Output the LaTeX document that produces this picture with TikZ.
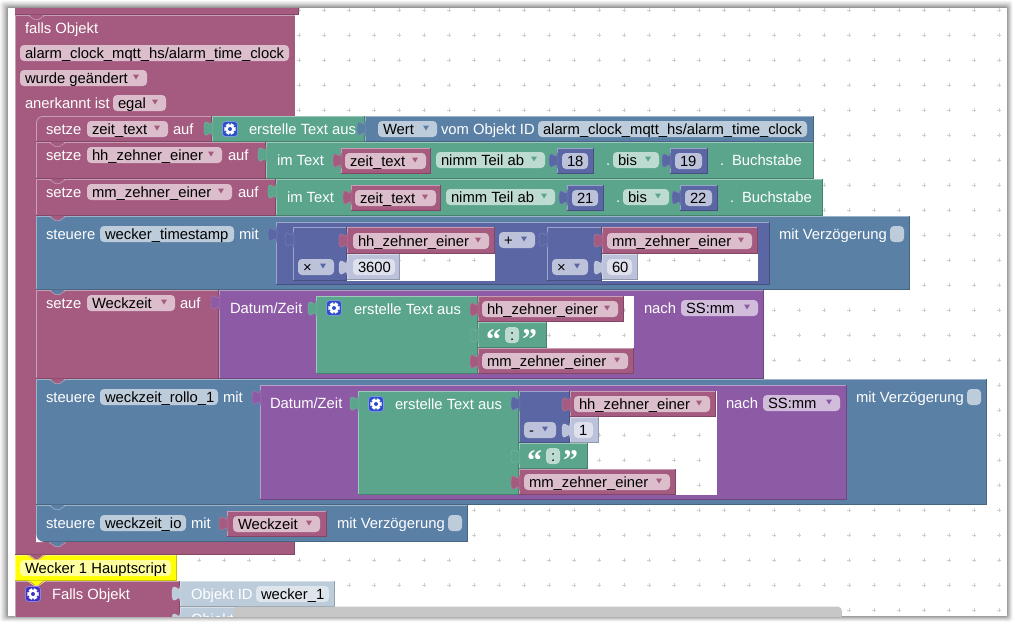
\documentclass[tikz,border=0pt]{standalone}
\usepackage{fontspec}
\setmainfont{Liberation Sans}
\newfontfamily\quotefont{Liberation Serif}
\definecolor{cM}{HTML}{A55B80}
\definecolor{cG}{HTML}{5BA58C}
\definecolor{cB}{HTML}{5B80A5}
\definecolor{cN}{HTML}{5B67A5}
\definecolor{cP}{HTML}{8D5BA5}
\definecolor{fM}{HTML}{DBBDCC}
\definecolor{fG}{HTML}{BDDBD1}
\definecolor{fB}{HTML}{BDCCDB}
\definecolor{fN}{HTML}{BDC2DB}
\definecolor{fP}{HTML}{D1BDDB}
\definecolor{sB}{HTML}{DEE5ED}
\definecolor{sN}{HTML}{DEE0ED}
\definecolor{cY}{HTML}{FFFF00}
\definecolor{fY}{HTML}{FFFFA0}
\definecolor{gearB}{HTML}{2A4FC8}
\definecolor{gearV}{HTML}{4030C4}
\definecolor{dotc}{HTML}{CFCFCF}
\newcount\nn
\tikzset{
  x=1pt,y=-1pt,
  txt/.style={inner sep=0pt,outer sep=0pt,anchor=base west,font=\fontsize{14.8}{16}\selectfont},
  wht/.style={txt,text=white},
  blk/.style={txt,text=black},
  fieldbox/.style={rounded corners=4pt},
  griddot/.style={draw=dotc,line width=.6pt}
}
\newcommand{\griddots}{%
  \foreach \gx in {24,49,...,1005}{\foreach \gy in {10,35,...,610}{%
    \draw[griddot] (\gx-2,\gy)--(\gx+2,\gy) (\gx,\gy-2)--(\gx,\gy+2);}}}
\newcommand{\hole}[4]{%
  \fill[white] (#1,#2) rectangle (#3,#4);
  \begin{scope}\clip (#1,#2) rectangle (#3,#4);\griddots\end{scope}}
\newcommand{\blok}[5]{%
  \fill[#5] (#1,#2) rectangle (#3,#4);
  \draw[#5!60!white,line width=.8pt] (#1+.4,#4) -- (#1+.4,#2+.4) -- (#3,#2+.4);
  \draw[#5!78!black,line width=.8pt] (#1,#4-.4) -- (#3-.4,#4-.4) -- (#3-.4,#2);}
\newcommand{\tabb}[3]{%
  \fill[#3,draw=#3!82!white,line width=.4pt] (#1+.8,#2+5) -- (#1,#2+5) .. controls (#1,#2+15) and (#1-8,#2-3) .. (#1-8,#2+12.5)
     .. controls (#1-8,#2+28) and (#1,#2+10) .. (#1,#2+20) -- (#1+.8,#2+20) -- cycle;}
\newcommand{\notch}[3]{%
  \fill[#3] (#1+14,#2-.5) -- (#1+20,#2+4) -- (#1+23,#2+4) -- (#1+29,#2-.5) -- cycle;
  \draw[#3!60!white,line width=.6pt] (#1+13,#2+.3) -- (#1+19.5,#2+4.6) -- (#1+23.5,#2+4.6) -- (#1+30,#2+.3);}
\newcommand{\lab}[3]{\global\advance\nn by 1 \node[wht] (n\the\nn) at (#1,#2+5) {#3};}
% \fld x1 x2 yc fill textcolor-block text
\newcommand{\fld}[6]{%
  \fill[#4,fieldbox] (#1,#3-8) rectangle (#2,#3+8);
  \global\advance\nn by 1 \node[blk] (n\the\nn) at (#1+5,#3+5) {#6};
  \fill[#5] (#2-14,#3-3.5) -- (#2-8,#3-3.5) -- (#2-11,#3+1.5) -- cycle;}
% plain field without arrow
\newcommand{\pfl}[5]{%
  \fill[#4,fieldbox] (#1,#3-8) rectangle (#2,#3+8);
  \global\advance\nn by 1 \node[blk] (n\the\nn) at (#1+5,#3+5) {#5};}
\newcommand{\chk}[2]{\fill[fB,fieldbox] (#1,#2-8) rectangle (#1+14,#2+8);}
\newcommand{\gearic}[3]{%
  \fill[#3,draw=#3!60!white,line width=.8pt,rounded corners=3pt] (#1-7.5,#2-7.5) rectangle (#1+7.5,#2+7.5);
  \foreach \a in {0,60,...,300}{\fill[white] (#1,#2) ++(\a-20:5.9) arc[start angle=\a-20,end angle=\a+20,radius=5.9] -- (#1,#2) -- cycle;}
  \fill[white] (#1,#2) circle[radius=4.6];
  \fill[#3] (#1,#2) circle[radius=2];}
\newcommand{\quot}[3]{\global\advance\nn by 1 \node[inner sep=0pt,anchor=base west,text=white,font=\fontsize{30}{30}\quotefont\bfseries] (n\the\nn) at (#1,#2) {#3};}
\begin{document}
\begin{tikzpicture}
\useasboundingbox (0,0) rectangle (1015,625);
\fill[white] (0,0) rectangle (1015,625);
% window shadow
\foreach \i/\s in {8/4,7/8,6/12,5/17,4/22,3/28,2/34,1/40}{
  \fill[black!\s,rounded corners=3pt] (8-\i,8-\i*.9) rectangle (1007+\i*.7,616+\i*.7);}
\fill[white] (8,8) rectangle (1007,616);
\begin{scope}
\clip (8,8) rectangle (1007,616);
\griddots
% top remnant block and hat block
\fill[cM] (15,8) rectangle (299,15);
\draw[cM!78!black,line width=.8pt] (15,14.6) -- (298.6,14.6) -- (298.6,8);
\fill[cM] (15,15) rectangle (295,555);
\draw[cM!60!white,line width=.8pt] (15.4,555) -- (15.4,15.4) -- (295,15.4);
\draw[cM!78!black,line width=.8pt] (15,554.6) -- (294.6,554.6) -- (294.6,542);
\notch{15}{15}{cM}
\lab{25}{28}{falls Objekt}
\pfl{20}{289}{53}{fM}{alarm\_clock\_mqtt\_hs/alarm\_time\_clock}
\fld{20}{147}{78}{fM}{cM}{wurde geändert}
\lab{25}{103}{anerkannt ist}
\fld{113}{166}{103}{fM}{cM}{egal}
% row 1
\blok{36}{116}{212}{142}{cM}
\fill[cM] (36,116) rectangle (42,122);
\draw[cM!60!white,line width=.8pt] (36.4,124) .. controls (36.4,119) and (39,116.4) .. (44,116.4);
\lab{46}{129}{setze}
\fld{87}{168}{129}{fM}{cM}{zeit\_text}
\lab{173}{129}{auf}
\blok{212}{116}{365}{142}{cG}
\tabb{212}{116}{cG}
\gearic{230}{129}{gearB}
\lab{249}{129}{erstelle Text aus}
\blok{365}{116}{814}{142}{cB}
\tabb{365}{116}{cB}
\fld{378}{437}{129}{fB}{cB}{Wert}
\lab{441}{129}{vom Objekt ID}
\pfl{538}{807}{129}{fB}{alarm\_clock\_mqtt\_hs/alarm\_time\_clock}
% row 2
\blok{36}{142}{266}{179}{cM}
\notch{36}{142}{cM}
\lab{46}{155}{setze}
\fld{87}{222}{155}{fM}{cM}{hh\_zehner\_einer}
\lab{228}{155}{auf}
\blok{266}{142}{814}{179}{cG}
\tabb{266}{142}{cG}
\lab{277}{160}{im Text}
\blok{341}{148}{431}{174}{cM}
\tabb{341}{148}{cM}
\fld{345}{426}{161}{fM}{cM}{zeit\_text}
\fld{436}{545}{160}{fG}{cG}{nimm Teil ab}
\blok{557}{148}{594}{174}{cN}
\tabb{557}{148}{cN}
\pfl{562}{588}{161}{fN}{18}
\lab{606}{160}{.}
\fld{613}{659}{160}{fG}{cG}{bis}
\blok{670}{148}{708}{174}{cN}
\tabb{670}{148}{cN}
\pfl{675}{702}{161}{fN}{19}
\lab{720}{160}{.}
\lab{732}{160}{Buchstabe}
% row 3
\blok{36}{179}{276}{216}{cM}
\notch{36}{179}{cM}
\lab{46}{192}{setze}
\fld{87}{232}{192}{fM}{cM}{mm\_zehner\_einer}
\lab{238}{192}{auf}
\blok{276}{179}{823}{216}{cG}
\tabb{276}{179}{cG}
\lab{287}{197}{im Text}
\blok{351}{185}{441}{211}{cM}
\tabb{351}{185}{cM}
\fld{355}{436}{198}{fM}{cM}{zeit\_text}
\fld{446}{555}{197}{fG}{cG}{nimm Teil ab}
\blok{567}{185}{604}{211}{cN}
\tabb{567}{185}{cN}
\pfl{572}{598}{198}{fN}{21}
\lab{616}{197}{.}
\fld{623}{669}{197}{fG}{cG}{bis}
\blok{680}{185}{718}{211}{cN}
\tabb{680}{185}{cN}
\pfl{685}{712}{198}{fN}{22}
\lab{730}{197}{.}
\lab{742}{197}{Buchstabe}
% row 4
\blok{36}{216}{910}{290}{cB}
\notch{36}{216}{cM}
\lab{46}{234}{steuere}
\pfl{100}{234}{234}{fB}{wecker\_timestamp}
\lab{239}{234}{mit}
\blok{276}{222}{770}{285}{cN}
\tabb{276}{222}{cN}
\hole{347}{227}{495}{281}
\blok{293}{227}{347}{281}{cN}
\tabb{293}{227}{cN}
\blok{347}{227}{495}{254}{cM}
\tabb{347}{228}{cM}
\fld{353}{489}{241}{fM}{cM}{hh\_zehner\_einer}
\fld{298}{334}{267}{fN}{cN}{×}
\blok{347}{254}{400}{280}{fN}
\tabb{347}{255}{fN}
\pfl{353}{395}{267}{sN}{3600}
\fld{499}{535}{240}{fN}{cN}{+}
\hole{602}{227}{758}{281}
\blok{547}{227}{602}{281}{cN}
\tabb{547}{227}{cN}
\blok{602}{227}{758}{254}{cM}
\tabb{602}{228}{cM}
\fld{607}{752}{241}{fM}{cM}{mm\_zehner\_einer}
\fld{552}{588}{267}{fN}{cN}{×}
\blok{602}{254}{638}{280}{fN}
\tabb{602}{255}{fN}
\pfl{607}{632}{267}{sN}{60}
\lab{779}{234}{mit Verzögerung}
\chk{890}{234}
% row 5
\blok{36}{290}{219}{379}{cM}
\notch{36}{290}{cB}
\lab{46}{303}{setze}
\fld{87}{175}{303}{fM}{cM}{Weckzeit}
\lab{180}{303}{auf}
\blok{219}{290}{764}{379}{cP}
\tabb{219}{290}{cP}
\lab{230}{308}{Datum/Zeit}
\hole{478}{296}{634}{374}
\blok{316}{296}{478}{374}{cG}
\tabb{316}{296}{cG}
\gearic{334}{308}{gearB}
\lab{354}{309}{erstelle Text aus}
\blok{478}{296}{624}{322}{cM}
\tabb{478}{297}{cM}
\fld{482}{618}{309}{fM}{cM}{hh\_zehner\_einer}
\blok{478}{322}{547}{348}{cG}
\tabb{478}{323}{cG}
\quot{486}{349}{“}
\pfl{505}{519}{335}{fG}{:}
\quot{522}{349}{”}
\blok{478}{348}{634}{374}{cM}
\tabb{478}{349}{cM}
\fld{482}{628}{361}{fM}{cM}{mm\_zehner\_einer}
\lab{644}{308}{nach}
\fld{681}{758}{308}{fP}{cP}{SS:mm}
% row 6
\blok{36}{379}{987}{505}{cB}
\notch{36}{379}{cM}
\lab{46}{397}{steuere}
\pfl{100}{218}{397}{fB}{weckzeit\_rollo\_1}
\lab{223}{397}{mit}
\blok{260}{385}{847}{500}{cP}
\tabb{260}{385}{cP}
\lab{270}{403}{Datum/Zeit}
\hole{519}{391}{717}{495}
\blok{358}{391}{519}{495}{cG}
\tabb{358}{391}{cG}
\gearic{376}{404}{gearB}
\lab{395}{404}{erstelle Text aus}
\blok{519}{391}{570}{443}{cN}
\tabb{519}{391}{cN}
\blok{570}{391}{716}{417}{cM}
\tabb{570}{392}{cM}
\fld{574}{710}{404}{fM}{cM}{hh\_zehner\_einer}
\fld{524}{556}{430}{fN}{cN}{-}
\blok{570}{417}{599}{443}{fN}
\tabb{570}{418}{fN}
\pfl{574}{593}{430}{sN}{1}
\blok{519}{443}{588}{469}{cG}
\tabb{519}{444}{cG}
\quot{527}{470}{“}
\pfl{546}{560}{456}{fG}{:}
\quot{563}{470}{”}
\blok{519}{469}{676}{495}{cM}
\tabb{519}{470}{cM}
\fld{524}{670}{482}{fM}{cM}{mm\_zehner\_einer}
\lab{726}{403}{nach}
\fld{763}{840}{403}{fP}{cP}{SS:mm}
\lab{856}{397}{mit Verzögerung}
\chk{967}{397}
% row 7
\blok{36}{505}{468}{542}{cB}
\notch{36}{505}{cB}
\lab{46}{523}{steuere}
\pfl{100}{186}{523}{fB}{weckzeit\_io}
\lab{191}{523}{mit}
\blok{227}{511}{327}{537}{cM}
\tabb{227}{511}{cM}
\fld{233}{320}{524}{fM}{cM}{Weckzeit}
\lab{337}{523}{mit Verzögerung}
\chk{448}{523}
\fill[white] (36,534) -- (36,542) -- (44,542) .. controls (39,541.5) and (36.5,539) .. cycle;
\notch{36}{542}{cB}
% comment and bottom blocks
\blok{15}{555}{177}{581}{cY}
\notch{15}{555}{cM}
\pfl{20}{171}{568}{fY}{Wecker 1 Hauptscript}
\blok{15}{581}{180}{622}{cM}
\notch{15}{581}{cY}
\gearic{33}{594}{gearV}
\lab{52}{594}{Falls Objekt}
\blok{180}{581}{335}{607}{fB}
\tabb{180}{581}{fB}
\lab{191}{594}{Objekt ID}
\pfl{256}{329}{594}{sB}{wecker\_1}
\blok{180}{607}{260}{622}{fB}
\tabb{180}{608}{fB}
\lab{191}{619}{Objekt}
% scrollbar
\fill[black!22,rounded corners=4.5pt] (233,606.5) rectangle (842,620);
\end{scope}
\end{tikzpicture}
\end{document}
